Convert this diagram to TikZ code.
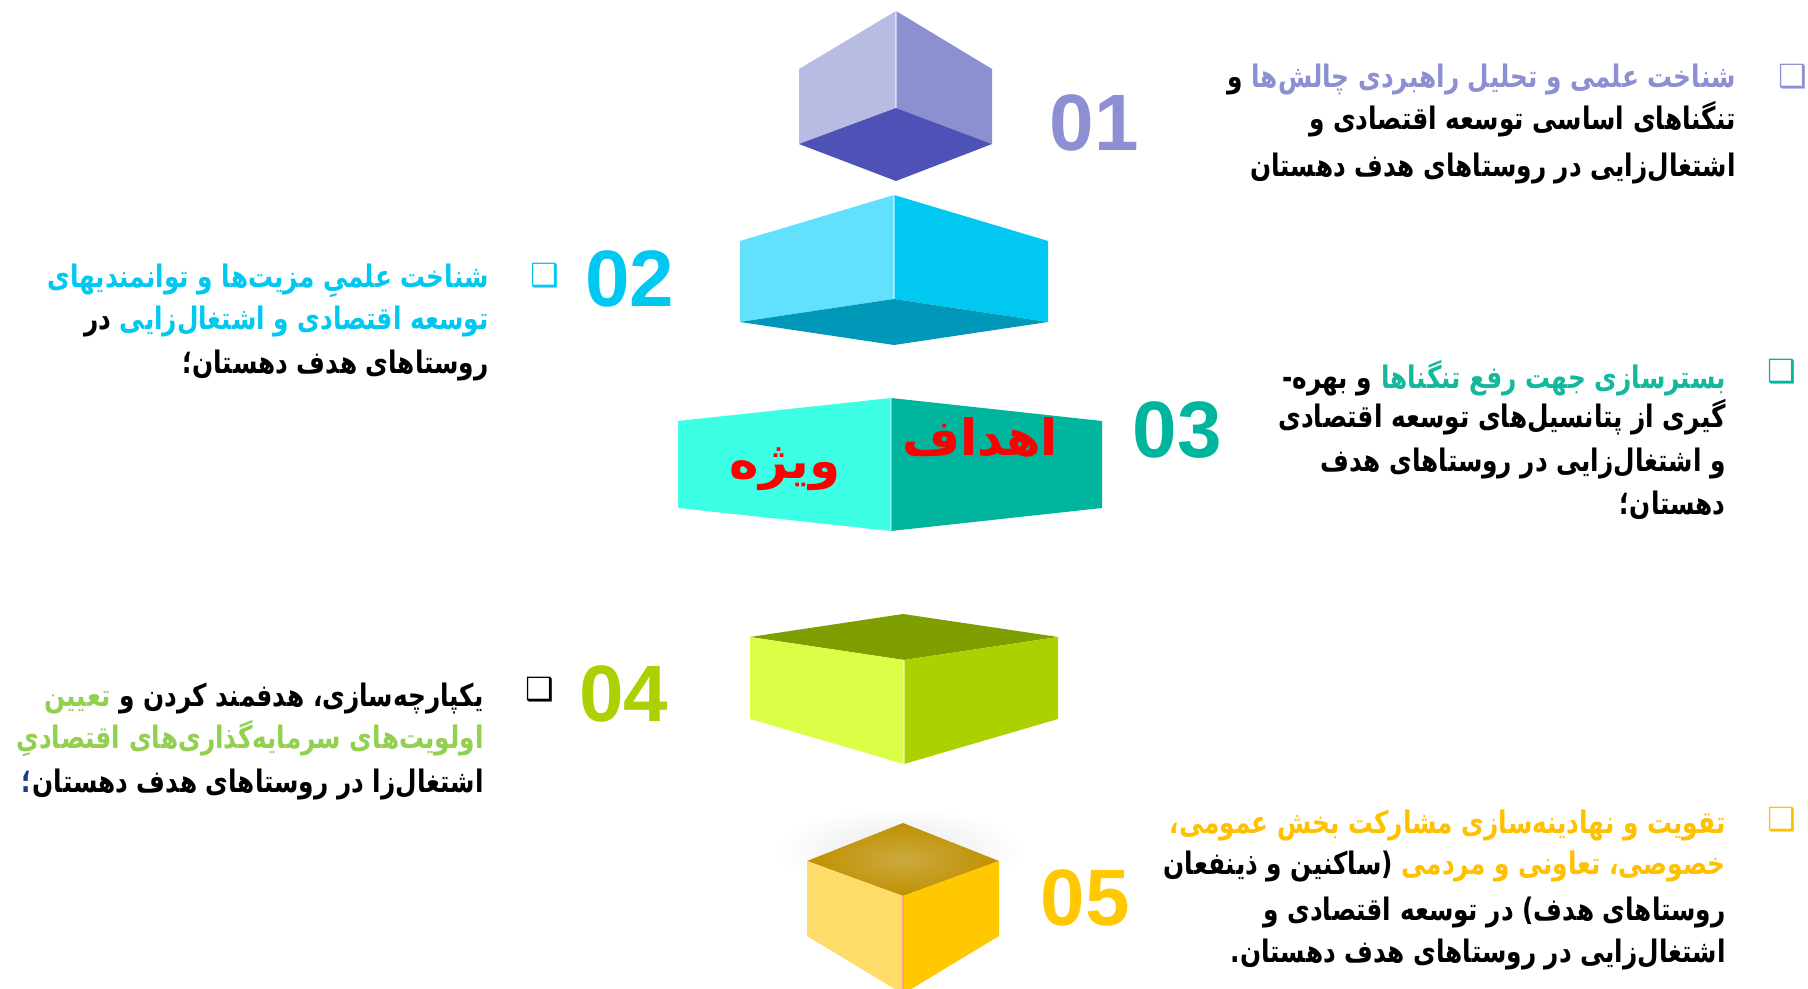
\documentclass[tikz,border=0pt]{standalone}
\usepackage{fontspec}
\newfontfamily\fa[Script=Arabic,FakeStretch=0.8]{DejaVu Sans}
\newfontfamily\falbl[Script=Arabic]{DejaVu Sans}
\newfontfamily\numfont{Liberation Sans}
\newfontfamily\symfont{DejaVu Sans}
\TeXXeTstate=1
\definecolor{lav}{HTML}{8C90D2}
\definecolor{lavL}{HTML}{B8BBE2}
\definecolor{lavD}{HTML}{4E52B6}
\definecolor{cyn}{HTML}{00C8F0}
\definecolor{cynL}{HTML}{62E1FF}
\definecolor{cynD}{HTML}{0098B8}
\definecolor{tea}{HTML}{00B59E}
\definecolor{teaL}{HTML}{3DFFE6}
\definecolor{teaT}{HTML}{14B89C}
\definecolor{grn}{HTML}{ABD200}
\definecolor{grnL}{HTML}{DAFF46}
\definecolor{grnD}{HTML}{7F9E00}
\definecolor{grnT}{HTML}{92D050}
\definecolor{yel}{HTML}{FFC800}
\definecolor{yelL}{HTML}{FEDC6A}
\definecolor{yelD}{HTML}{BF9000}
\definecolor{yelM}{HTML}{CBAA40}
\definecolor{yelT}{HTML}{FFC000}
\definecolor{navyc}{HTML}{1F3C88}
\begin{document}
\begin{tikzpicture}[x=0.5pt,y=-0.5pt,
  ln/.style={anchor=base east, inner sep=0pt, font=\fa\bfseries\fontsize{15.5}{21.5}\selectfont},
  num/.style={inner sep=0pt, font=\numfont\bfseries\fontsize{40}{40}\selectfont},
  bul/.style={inner sep=0pt, font=\symfont\bfseries\fontsize{16}{16}\selectfont},
  lbl/.style={inner sep=0pt, text=red, font=\falbl\bfseries\fontsize{25}{25}\selectfont},
  edge/.style={line width=0.7pt}]
\useasboundingbox[fill=white] (0,0) rectangle (1808,989);

% ---------- box 1 ----------
\coordinate (a1) at (896,11);  \coordinate (a1lt) at (799,69); \coordinate (a1rt) at (992,69);
\coordinate (a1lb) at (799,144); \coordinate (a1rb) at (992,144); \coordinate (a1c) at (896,108);
\coordinate (a1ba) at (896,181);
\fill[lavL] (a1lt) -- (a1) -- (a1c) -- (a1lb) -- cycle;
\fill[lav] (a1) -- (a1rt) -- (a1rb) -- (a1c) -- cycle;
\fill[lavD] (a1lb) -- (a1c) -- (a1rb) -- (a1ba) -- cycle;
\draw[edge, draw=white, opacity=0.5] (a1) -- (a1c);

% ---------- box 2 ----------
\coordinate (a2) at (894,195);  \coordinate (a2lt) at (740,241); \coordinate (a2rt) at (1048,241);
\coordinate (a2lb) at (740,322); \coordinate (a2rb) at (1048,322); \coordinate (a2c) at (894,299);
\coordinate (a2ba) at (894,345);
\fill[cynL] (a2lt) -- (a2) -- (a2c) -- (a2lb) -- cycle;
\fill[cyn] (a2) -- (a2rt) -- (a2rb) -- (a2c) -- cycle;
\fill[cynD] (a2lb) -- (a2c) -- (a2rb) -- (a2ba) -- cycle;
\draw[edge, draw=white, opacity=0.5] (a2) -- (a2c);

% ---------- box 3 ----------
\coordinate (a3) at (891,398);  \coordinate (a3lt) at (678,421); \coordinate (a3rt) at (1102,421);
\coordinate (a3lb) at (678,508); \coordinate (a3rb) at (1102,508); \coordinate (a3ba) at (891,531);
\fill[teaL] (a3lt) -- (a3) -- (a3ba) -- (a3lb) -- cycle;
\fill[tea] (a3) -- (a3rt) -- (a3rb) -- (a3ba) -- cycle;
\draw[edge, draw=white, opacity=0.4] (a3) -- (a3ba);
\node[lbl] (ahdaf) at (980,437) {\beginR اهداف\endR};
\node[lbl] (vizhe) at (785,469) {\beginR ویژه\endR};

% ---------- box 4 ----------
\coordinate (a4tb) at (903,614);  \coordinate (a4lt) at (750,637); \coordinate (a4rt) at (1058,637);
\coordinate (a4ft) at (904,660); \coordinate (a4lb) at (750,719); \coordinate (a4rb) at (1058,719);
\coordinate (a4fb) at (904,764);
\fill[grnD] (a4lt) -- (a4tb) -- (a4rt) -- (a4ft) -- cycle;
\fill[grnL] (a4lt) -- (a4ft) -- (a4fb) -- (a4lb) -- cycle;
\fill[grn] (a4ft) -- (a4rt) -- (a4rb) -- (a4fb) -- cycle;
\draw[edge, draw=white, opacity=0.5] (a4ft) -- (a4fb);

% ---------- box 5 ----------
\shade[inner color=black!9, outer color=white] (900,850) ellipse [x radius=125, y radius=42];
\coordinate (a5tb) at (903,823);  \coordinate (a5lt) at (807,861); \coordinate (a5rt) at (999,861);
\coordinate (a5ft) at (903,896); \coordinate (a5lb) at (807,936); \coordinate (a5rb) at (999,936);
\coordinate (a5fb) at (903,994);
\shade[inner color=yelM, outer color=yelD] (a5lt) -- (a5tb) -- (a5rt) -- (a5ft) -- cycle;
\fill[yelL] (a5lt) -- (a5ft) -- (a5fb) -- (a5lb) -- cycle;
\fill[yel] (a5ft) -- (a5rt) -- (a5rb) -- (a5fb) -- cycle;
\draw[edge, draw={rgb,255:red,244;green,165;blue,130}] (a5ft) -- (a5fb);

% ---------- numbers ----------
\node[num, text=lav] (n1) at (1094,123) {01};
\node[num, text=cyn] (n2) at (630,279) {02};
\node[num, text=tea] (n3) at (1177,430) {03};
\node[num, text=grn] (n4) at (624,694) {04};
\node[num, text=yel] (n5) at (1085,898) {05};

% ---------- bullets ----------
\node[bul, text=lav] (b1) at (1793,77) {❑};
\node[bul, text=cyn] (b2) at (545,276) {❑};
\node[bul, text=tea] (b3) at (1782,372) {❑};
\node[bul, text=black] (b4) at (540,690) {❑};
\node[bul, text=yelT] (b5) at (1782,820) {❑};

% ---------- text block 1 ----------
\node[ln, text=lav] (t1a) at (1736,88) {\beginR شناخت علمی و تحلیل راهبردی چالش^^^^200cها\endR};
\node[ln] (t1b) at ([xshift=-4pt]t1a.base west) {\beginR و\endR};
\node[ln] (t1c) at (1736,130) {\beginR تنگناهای اساسی توسعه اقتصادی و\endR};
\node[ln] (t1d) at (1736,177) {\beginR اشتغال^^^^200cزایی در روستاهای هدف دهستان\endR};

% ---------- text block 2 ----------
\node[ln, text=cyn] (t2a) at (489,288) {\beginR شناخت علمیِ مزیت^^^^200cها و توانمندیهای\endR};
\node[ln, text=cyn] (t2b) at (489,329) {\beginR توسعه اقتصادی و اشتغال^^^^200cزایی\endR};
\node[ln] (t2c) at ([xshift=-4pt]t2b.base west) {\beginR در\endR};
\node[ln] (t2d) at (489,373) {\beginR روستاهای هدف دهستان؛\endR};

% ---------- text block 3 ----------
\node[ln, text=teaT] (t3a) at (1726,388) {\beginR بسترسازی جهت رفع تنگناها\endR};
\node[ln] (t3b) at ([xshift=-4pt]t3a.base west) {\beginR و بهره-\endR};
\node[ln] (t3c) at (1726,427) {\beginR گیری از پتانسیل^^^^200cهای توسعه اقتصادی\endR};
\node[ln] (t3d) at (1726,471) {\beginR و اشتغال^^^^200cزایی در روستاهای هدف\endR};
\node[ln] (t3e) at (1726,514) {\beginR دهستان؛\endR};

% ---------- text block 4 ----------
\node[ln] (t4a) at (484,706) {\beginR یکپارچه^^^^200cسازی، هدفمند کردن و\endR};
\node[ln, text=grnT] (t4b) at ([xshift=-4pt]t4a.base west) {\beginR تعیین\endR};
\node[ln, text=grnT] (t4c) at (484,748) {\beginR اولویت^^^^200cهای سرمایه^^^^200cگذاری^^^^200cهای اقتصادیِ\endR};
\node[ln] (t4d) at (484,792) {\beginR اشتغال^^^^200cزا در روستاهای هدف دهستان\endR};
\node[ln, text=navyc] (t4e) at (t4d.base west) {\beginR ؛\endR};

% ---------- text block 5 ----------
\node[ln, text=yelT] (t5a) at (1726,833) {\beginR تقویت و نهادینه^^^^200cسازی مشارکت بخش عمومی،\endR};
\node[ln, text=yelT] (t5b) at (1726,874) {\beginR خصوصی، تعاونی و مردمی\endR};
\node[ln] (t5c) at ([xshift=-4pt]t5b.base west) {\beginR (ساکنین و ذینفعان\endR};
\node[ln] (t5d) at (1726,920) {\beginR روستاهای هدف) در توسعه اقتصادی و\endR};
\node[ln] (t5e) at (1726,962) {\beginR اشتغال^^^^200cزایی در روستاهای هدف دهستان.\endR};
\end{tikzpicture}
\end{document}
